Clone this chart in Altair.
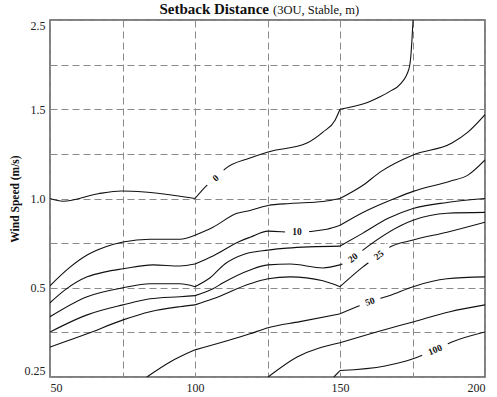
import altair as alt
import pandas as pd

# ---- data ----
levels = ["0", "5", "10", "15", "20", "25", "50", "75", "100"]

c0_x = [50, 54.5, 66.6, 74.6, 82.6, 93.0, 100, 104.1, 107.2, 110.3, 119.0, 125.2, 138.6, 144.1, 148.3, 150,
        159.7, 163.8, 167.2, 170.7, 173.8, 174.5, 174.8, 175.2]
c0_y = [1.0, 0.985, 1.027, 1.042, 1.036, 1.017, 1.0, 1.074, 1.114, 1.165, 1.227, 1.261, 1.311, 1.372, 1.439, 1.5,
        1.578, 1.639, 1.700, 1.778, 1.955, 2.125, 2.273, 2.5]

c5_x = [50, 56.6, 62.8, 69.0, 75.2, 84.5, 94.8, 100, 106.2, 114.5, 119.0, 125.2, 132.8, 144.1, 150,
        157.9, 163.8, 175.2, 188.6, 194.1, 200]
c5_y = [0.511, 0.611, 0.683, 0.728, 0.756, 0.772, 0.772, 0.794, 0.839, 0.917, 0.933, 0.961, 0.972, 0.983, 1.0,
        1.074, 1.148, 1.244, 1.311, 1.372, 1.47]

c10_x = [50, 55.2, 62.8, 69.0, 75.2, 85.5, 94.8, 100, 106.2, 115.5, 119.0, 125.2, 134.5, 145.5, 150,
         157.9, 169.7, 175.2, 187.9, 194.1, 200]
c10_y = [0.458, 0.494, 0.561, 0.589, 0.606, 0.628, 0.622, 0.633, 0.678, 0.761, 0.783, 0.817, 0.811, 0.828, 0.850,
         0.922, 1.006, 1.040, 1.097, 1.131, 1.216]

c15_x = [50, 62.8, 75.2, 84.5, 94.8, 100, 105.2, 110.3, 117.2, 125.2, 131.7, 150,
         157.9, 166.6, 175.2, 186.9, 200]
c15_y = [0.419, 0.475, 0.5, 0.522, 0.522, 0.506, 0.556, 0.633, 0.689, 0.711, 0.722, 0.733,
         0.806, 0.889, 0.944, 0.978, 1.0]

c20_x = [50, 62.8, 75.2, 84.5, 94.8, 100, 106.2, 109.7, 119.0, 125.2, 132.8, 144.1, 150,
         154.5, 157.9, 175.2, 186.9, 200]
c20_y = [0.376, 0.424, 0.452, 0.469, 0.475, 0.478, 0.497, 0.528, 0.600, 0.628, 0.633, 0.611, 0.628,
         0.667, 0.711, 0.878, 0.917, 0.922]

c25_x = [50, 62.8, 75.2, 84.5, 94.8, 100, 106.2, 119.0, 125.2, 132.8, 144.1, 150,
         157.9, 163.4, 166.6, 175.2, 186.9, 200]
c25_y = [0.334, 0.371, 0.410, 0.433, 0.447, 0.452, 0.469, 0.522, 0.550, 0.561, 0.539, 0.506,
         0.617, 0.683, 0.722, 0.767, 0.811, 0.867]

c50_x = [83.4, 91.4, 100, 119.0, 125.2, 136.2, 150, 160.3, 167.2, 175.2, 186.9, 200]
c50_y = [0.25, 0.292, 0.326, 0.371, 0.388, 0.405, 0.427, 0.461, 0.478, 0.506, 0.550, 0.561]

c75_x = [125.2, 135.2, 150, 163.8, 175.5, 187.9, 200]
c75_y = [0.25, 0.306, 0.346, 0.379, 0.405, 0.433, 0.452]

c100_x = [147.9, 150, 165.5, 175.2, 182.8, 188.6, 200]
c100_y = [0.25, 0.268, 0.281, 0.301, 0.326, 0.348, 0.376]

label_text = ["0", "10", "20", "25", "50", "100"]
label_x = [107.2, 135.2, 154.5, 163.4, 160.3, 182.8]
label_y = [1.114, 0.811, 0.667, 0.683, 0.461, 0.326]
label_angle = [318, 0, 323, 321, 340, 337]
label_gap = [22, 24, 24, 26, 22, 28]

x_ticks = [50, 75, 100, 125, 150, 175, 200]
y_ticks = [0.25, 0.375, 0.5, 0.75, 1.0, 1.25, 1.5, 2.0, 2.5]
y_anchor = [0.25, 0.5, 1.0, 1.5, 2.5]

title_main = "Setback Distance"
title_rest = "(3OU, Stable, m)"
y_title = "Wind Speed (m/s)"

# ---- build tables ----
W, H = 435, 357
series = [c0_x, c5_x, c10_x, c15_x, c20_x, c25_x, c50_x, c75_x, c100_x]
series_y = [c0_y, c5_y, c10_y, c15_y, c20_y, c25_y, c50_y, c75_y, c100_y]
breaks = [100, 150]
rows = []
for lev, xs, ys in zip(levels, series, series_y):
    seg = 0
    for i, (xv, yv) in enumerate(zip(xs, ys)):
        rows.append({"x": xv, "y": yv, "seg": f"{lev}_{seg}", "ord": i})
        if xv in breaks and 0 < i < len(xs) - 1:
            seg += 1
            rows.append({"x": xv, "y": yv, "seg": f"{lev}_{seg}", "ord": i})
lines_df = pd.DataFrame(rows)

labels_df = pd.DataFrame({"x": label_x, "y": label_y, "t": label_text,
                          "a": label_angle, "s": [g * g for g in label_gap]})

serif = "Liberation Serif"
n_seg = len(y_anchor) - 1
y_range = [H - H * i / n_seg for i in range(len(y_anchor))]

xscale = alt.Scale(domain=[50, 200], nice=False, zero=False)
yscale = alt.Scale(domain=y_anchor, range=y_range, nice=False, zero=False)

xaxis = alt.Axis(values=x_ticks, labelExpr="datum.value % 50 == 0 ? datum.label : ''",
                 grid=True, gridDash=[7, 4], gridColor="#8a8a8a", gridWidth=1,
                 ticks=False, domain=False, labelFont=serif, labelFontSize=12,
                 labelColor="#222", labelPadding=5, labelOverlap=False, title=None)
yaxis = alt.Axis(values=y_ticks,
                 labelExpr="datum.value == 0.25 ? '0.25' : datum.value == 0.5 ? '0.5' : datum.value == 1 ? '1.0' : datum.value == 1.5 ? '1.5' : datum.value == 2.5 ? '2.5' : ''",
                 grid=True, gridDash=[7, 4], gridColor="#8a8a8a", gridWidth=1,
                 ticks=False, domain=False, labelFont=serif, labelFontSize=12,
                 labelColor="#222", labelPadding=5, labelOverlap=False, labelFlush=True,
                 title=y_title, titleFont=serif, titleFontSize=11.5, titleFontWeight="bold",
                 titleColor="#111", titlePadding=4)

X = alt.X("x:Q", scale=xscale, axis=xaxis)
Y = alt.Y("y:Q", scale=yscale, axis=yaxis)

lines = alt.Chart(lines_df).mark_line(interpolate="monotone", color="#111", strokeWidth=1.1, clip=True).encode(
    x=X, y=Y, detail="seg:N", order="ord:Q")

gaps = alt.Chart(labels_df).mark_point(shape="M-1,-0.42L1,-0.42L1,0.42L-1,0.42Z", filled=True,
                                       color="white", opacity=1, strokeWidth=0).encode(
    x=X, y=Y, size=alt.Size("s:Q", scale=None, legend=None), angle=alt.Angle("a:Q", scale=None))

texts = alt.Chart(labels_df).mark_text(font=serif, fontWeight="bold", fontSize=9.5, color="#111",
                                       align="center", baseline="middle").encode(
    x=X, y=Y, text="t:N", angle=alt.Angle("a:Q", scale=None))

t1 = alt.Chart(pd.DataFrame({"t": [title_main]})).mark_text(
    font=serif, fontWeight="bold", fontSize=15, color="#111", align="right", baseline="alphabetic").encode(
    text="t:N", x=alt.value(219), y=alt.value(-6))
t2 = alt.Chart(pd.DataFrame({"t": [title_rest]})).mark_text(
    font=serif, fontSize=12.5, color="#111", align="left", baseline="alphabetic").encode(
    text="t:N", x=alt.value(223), y=alt.value(-6))

chart = alt.layer(lines, gaps, texts, t1, t2).properties(
    width=W, height=H,
    autosize=alt.AutoSizeParams(type="none"),
    padding={"left": 50, "top": 20, "right": 12, "bottom": 20},
    background="white",
).configure_view(stroke="#555", strokeWidth=1.5)

chart.save("out.html", embed_options={"renderer": "svg", "actions": False})
